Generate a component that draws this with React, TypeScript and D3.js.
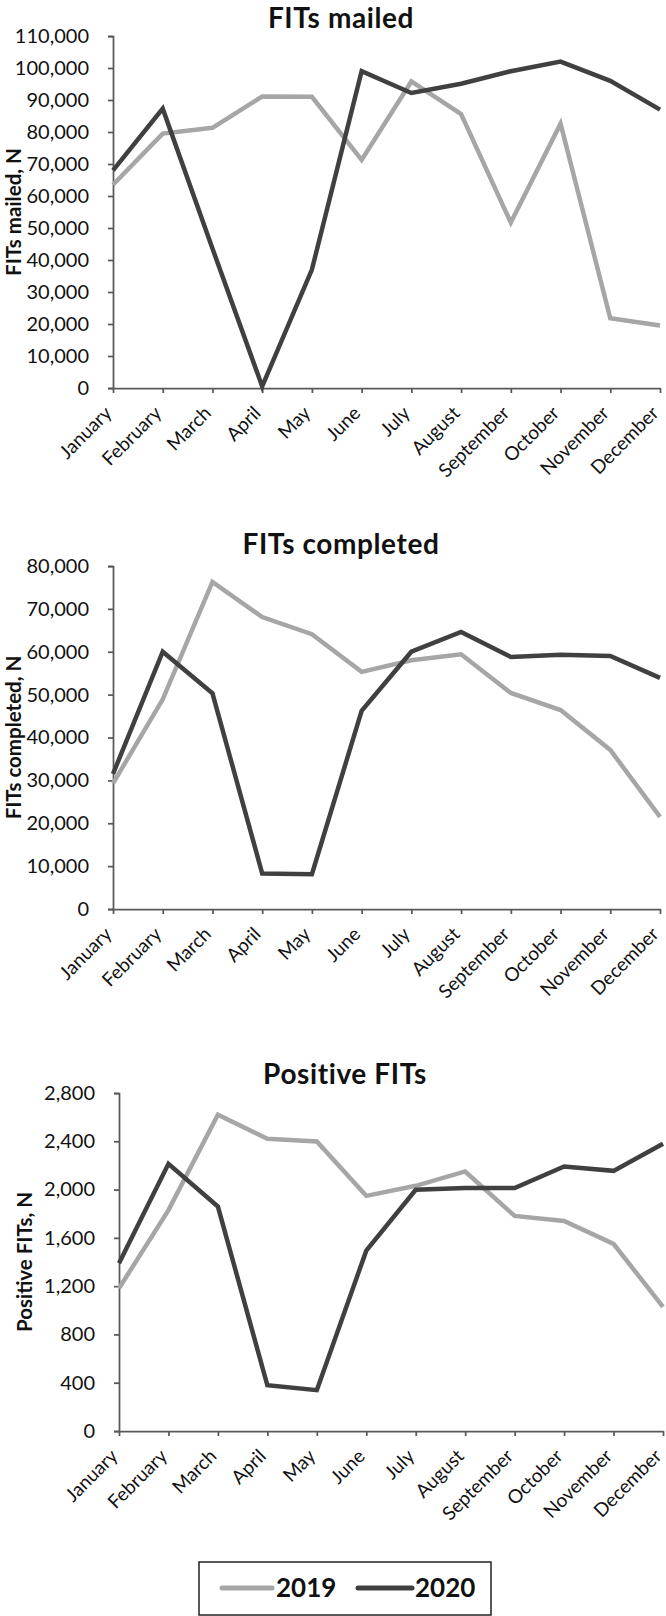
import React, { useEffect, useRef } from "react";
import * as d3 from "d3";

const months = ["January", "February", "March", "April", "May", "June", "July", "August", "September", "October", "November", "December"];

const mailed2019 = [63500, 79500, 81300, 91100, 91000, 71300, 95800, 85600, 51700, 82600, 21800, 19500];
const mailed2020 = [68000, 87300, 43600, 500, 37000, 99000, 92200, 95100, 99000, 102000, 96000, 87000];
const mailedTicks = [0, 10000, 20000, 30000, 40000, 50000, 60000, 70000, 80000, 90000, 100000, 110000];

const completed2019 = [29300, 48900, 76300, 68100, 64100, 55300, 58000, 59400, 50400, 46400, 37100, 21500];
const completed2020 = [31500, 60000, 50300, 8300, 8100, 46200, 60000, 64600, 58800, 59300, 59000, 53900];
const completedTicks = [0, 10000, 20000, 30000, 40000, 50000, 60000, 70000, 80000];

const positive2019 = [1182, 1830, 2620, 2421, 2398, 1948, 2031, 2150, 1782, 1740, 1550, 1029];
const positive2020 = [1389, 2213, 1859, 379, 338, 1494, 1998, 2012, 2012, 2191, 2155, 2380];
const positiveTicks = [0, 400, 800, 1200, 1600, 2000, 2400, 2800];

const seriesNames = ["2019", "2020"];
const seriesColors = ["#a6a6a6", "#404040"];

const FONT = "Lato, 'Open Sans', sans-serif";

const panels = [
  { title: "FITs mailed", yLabel: "FITs mailed, N", s2019: mailed2019, s2020: mailed2020, ticks: mailedTicks, left: 113, right: 660, top: 36, bottom: 388, titleY: 27.5, titleX: 341, yLabelX: 21 },
  { title: "FITs completed", yLabel: "FITs completed, N", s2019: completed2019, s2020: completed2020, ticks: completedTicks, left: 113, right: 660, top: 566, bottom: 909, titleY: 554, titleX: 341, yLabelX: 21 },
  { title: "Positive FITs", yLabel: "Positive FITs, N", s2019: positive2019, s2020: positive2020, ticks: positiveTicks, left: 119, right: 663, top: 1093, bottom: 1431, titleY: 1084, titleX: 345, yLabelX: 32 },
];

export default function App() {
  const ref = useRef<SVGSVGElement>(null);
  useEffect(() => {
    const svg = d3.select(ref.current);
    svg.selectAll("*").remove();
    const fmt = d3.format(",");
    panels.forEach((p) => {
      const g = svg.append("g");
      const x = d3.scalePoint<string>().domain(months).range([p.left, p.right]).padding(0);
      const yMax = p.ticks[p.ticks.length - 1];
      const y = d3.scaleLinear().domain([0, yMax]).range([p.bottom, p.top]);

      // title
      g.append("text").attr("x", p.titleX).attr("y", p.titleY).attr("text-anchor", "middle")
        .attr("font-family", FONT).attr("font-weight", 700).attr("font-size", 28)
        .attr("letter-spacing", 0.6).attr("fill", "#111").text(p.title);
      // y label
      g.append("text").attr("transform", `translate(${p.yLabelX},${(p.top + p.bottom) / 2}) rotate(-90)`)
        .attr("text-anchor", "middle").attr("font-family", FONT).attr("font-weight", 700).attr("font-size", 20.5)
        .attr("fill", "#111").text(p.yLabel);

      // y axis
      const yAxis = g.append("g").attr("transform", `translate(${p.left},0)`)
        .call(d3.axisLeft(y).tickValues(p.ticks).tickFormat((d: any) => fmt(d)).tickSize(5).tickSizeOuter(5).tickPadding(19));
      yAxis.select(".domain").attr("stroke", "#595959").attr("stroke-width", 1.75);
      yAxis.selectAll(".tick line").attr("stroke", "#595959").attr("stroke-width", 1.75);
      yAxis.selectAll(".tick text").attr("font-family", FONT).attr("font-size", 20).attr("fill", "#111");

      // x axis
      const xAxis = g.append("g").attr("transform", `translate(0,${p.bottom})`)
        .call(d3.axisBottom(x).tickSize(5).tickSizeOuter(0));
      xAxis.select(".domain").attr("stroke", "#595959").attr("stroke-width", 1.75);
      xAxis.selectAll(".tick line").attr("stroke", "#595959").attr("stroke-width", 1.75);
      xAxis.selectAll(".tick text")
        .attr("font-family", FONT).attr("font-size", 19).attr("fill", "#111")
        .attr("text-anchor", "end").attr("y", 0).attr("dy", "0.25em")
        .attr("transform", "translate(-4,23) rotate(-45)");

      // lines
      const line = d3.line<number>().x((_, i) => x(months[i]) as number).y((d) => y(d));
      [p.s2019, p.s2020].forEach((s, k) => {
        g.append("path").attr("d", line(s) as string).attr("fill", "none")
          .attr("stroke", seriesColors[k]).attr("stroke-width", 4.5).attr("stroke-linejoin", "miter");
      });
    });

    // legend
    const lg = svg.append("g");
    lg.append("rect").attr("x", 199).attr("y", 1562).attr("width", 292).attr("height", 53)
      .attr("fill", "white").attr("stroke", "#222").attr("stroke-width", 1.5);
    const legendItems = [
      { x1: 222, x2: 272, tx: 276 },
      { x1: 358, x2: 412, tx: 415 },
    ];
    legendItems.forEach((it, k) => {
      lg.append("line").attr("x1", it.x1).attr("x2", it.x2).attr("y1", 1588).attr("y2", 1588)
        .attr("stroke", seriesColors[k]).attr("stroke-width", 5).attr("stroke-linecap", "round");
      lg.append("text").attr("x", it.tx).attr("y", 1597).attr("font-family", FONT).attr("font-weight", 700)
        .attr("font-size", 26).attr("fill", "#111").text(seriesNames[k]);
    });
  }, []);
  return (
    <svg ref={ref} width={666} height={1616} style={{ position: "absolute", left: 0, top: 0, background: "white" }} />
  );
}
